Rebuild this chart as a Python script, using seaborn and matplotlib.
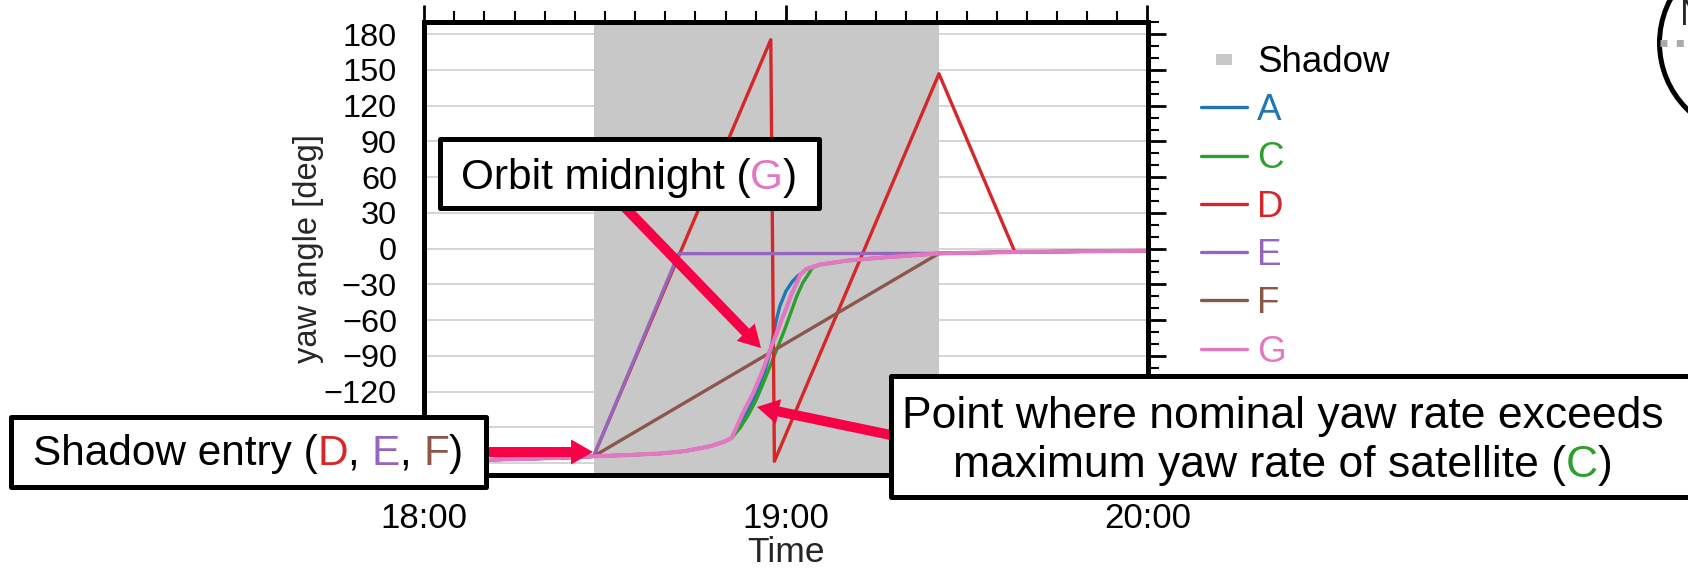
import matplotlib
matplotlib.use("Agg")
import matplotlib.pyplot as plt
import matplotlib.dates as mdates
from matplotlib.ticker import MultipleLocator, FixedFormatter
from matplotlib.patches import Rectangle, Patch, FancyArrowPatch, Ellipse
from matplotlib.lines import Line2D
from matplotlib.legend_handler import HandlerPatch
import pandas as pd
import seaborn as sns

# ---- yaw angle [deg] versus minutes after 18:00 ----
# nominal attitude (G); the other laws coincide with it outside their own segments
NOMINAL_MIN = [0.0, 12.0, 22.8, 28.1, 33.6, 39.1, 43.2, 47.4, 49.8, 51.0, 52.9,
               54.6, 56.0, 56.8, 57.6, 58.5, 59.3, 60.1, 60.9, 61.8, 62.4, 63.4,
               65.6, 70.1, 74.5, 78.9, 85.4, 98.0, 120.0]
NOMINAL_YAW = [-178.5, -177.0, -175.6, -174.3, -173.3, -172.0, -170.0, -165.9,
               -162.0, -158.9, -137.9, -121.1, -104.3, -93.1, -82.0, -70.8, -59.6,
               -49.8, -38.6, -28.8, -21.8, -17.1, -13.4, -10.1, -8.1, -6.4, -4.0,
               -2.8, -1.7]

A_MIN = [51.0, 53.2, 55.1, 56.5, 57.2, 57.8, 58.3, 59.0, 60.0, 61.1, 62.2]
A_YAW = [-158.9, -140.7, -121.1, -102.9, -90.3, -76.4, -62.4, -48.4, -35.8, -27.4, -21.8]

C_MIN = [51.0, 52.4, 53.8, 55.1, 56.5, 57.6, 58.7, 59.8, 60.8, 61.8, 62.8, 63.7, 64.4]
C_YAW = [-158.9, -150.5, -139.3, -126.7, -109.9, -95.9, -82.0, -68.0, -54.0,
         -40.0, -28.8, -21.8, -16.0]

D_MIN = [28.1, 57.5, 58.1, 85.4, 98.0]
D_YAW = [-174.3, 175.4, -178.5, 146.8, -2.8]

E_MIN = [28.1, 42.2, 85.4]
E_YAW = [-174.3, -4.2, -4.0]

F_MIN = [28.1, 85.4]
F_YAW = [-174.3, -4.0]

SERIES = ["A", "C", "D", "E", "F", "G"]
COLORS = ["#1f77b4", "#2ca02c", "#d62728", "#9467bd", "#8c564b", "#e377c2"]
SHADOW_MIN = [28.2, 85.4]
Y_TICKS = list(range(-180, 181, 30))
# the two lowest labels sit behind the "Shadow entry" call-out
Y_TICK_LABELS = ["", ""] + ["\u2212%d" % -v if v < 0 else "%d" % v for v in Y_TICKS[2:]]

SHADOW_COLOR = "#c8c8c8"
ARROW_COLOR = "#f70046"
BASE = pd.Timestamp("2000-01-01 18:00")

W_PX, H_PX, DPI = 1688, 568, 100

sns.set_theme(style="white")
plt.rcParams["font.family"] = ["Liberation Sans", "DejaVu Sans"]
plt.rcParams["axes.unicode_minus"] = True


def splice(own_t, own_y):
    """Nominal curve outside the series' own segment, own points inside."""
    t = [x for x in NOMINAL_MIN if x < own_t[0]] + own_t + [x for x in NOMINAL_MIN if x > own_t[-1]]
    y = ([v for x, v in zip(NOMINAL_MIN, NOMINAL_YAW) if x < own_t[0]] + own_y
         + [v for x, v in zip(NOMINAL_MIN, NOMINAL_YAW) if x > own_t[-1]])
    return t, y


curves = {
    "A": splice(A_MIN, A_YAW),
    "C": splice(C_MIN, C_YAW),
    "D": splice(D_MIN, D_YAW),
    "E": splice(E_MIN, E_YAW),
    "F": splice(F_MIN, F_YAW),
    "G": (NOMINAL_MIN, NOMINAL_YAW),
}
frames = []
for name in SERIES:
    mins, yaw = curves[name]
    frames.append(pd.DataFrame({
        "time": BASE + pd.to_timedelta(mins, unit="min"),
        "yaw": yaw,
        "series": name,
    }))
df = pd.concat(frames, ignore_index=True)

fig = plt.figure(figsize=(W_PX / DPI, H_PX / DPI), dpi=DPI)
fig.patch.set_facecolor("white")


def fx(x):
    return x / W_PX


def fy(y):
    return 1 - y / H_PX


ax = fig.add_axes([fx(424.2), fy(475), (1147.5 - 424.2) / W_PX, (475 - 22.3) / H_PX])
ax.set_facecolor("white")

ax.axvspan(BASE + pd.Timedelta(minutes=SHADOW_MIN[0]),
           BASE + pd.Timedelta(minutes=SHADOW_MIN[1]),
           color=SHADOW_COLOR, lw=0, zorder=1)

sns.lineplot(data=df, x="time", y="yaw", hue="series", hue_order=SERIES,
             palette=dict(zip(SERIES, COLORS)), estimator=None, sort=False,
             linewidth=2.4, legend=False, ax=ax, zorder=2)
ax.lines[-1].set_linewidth(3.0)

ax.set_xlim(BASE, BASE + pd.Timedelta(hours=2))
ax.set_ylim(-190, 190)
ax.set_yticks(Y_TICKS)
ax.yaxis.set_major_formatter(FixedFormatter(Y_TICK_LABELS))
ax.yaxis.set_minor_locator(MultipleLocator(10))
ax.xaxis.set_major_locator(mdates.HourLocator())
ax.xaxis.set_minor_locator(mdates.MinuteLocator(byminute=range(0, 60, 5)))
ax.xaxis.set_major_formatter(mdates.DateFormatter("%H:%M"))

ax.set_axisbelow(True)
ax.yaxis.grid(True, color="#d4d4d4", lw=1.4)
ax.xaxis.grid(False)

for side in ["left", "right", "top", "bottom"]:
    ax.spines[side].set_visible(True)
    ax.spines[side].set_color("black")
    ax.spines[side].set_linewidth(3.6)

ax.tick_params(which="major", direction="out", length=12.6, width=2.0,
               colors="black", top=True, right=True)
ax.tick_params(which="minor", direction="out", length=7.9, width=1.5,
               colors="black", top=True, right=True)
ax.tick_params(axis="y", which="major", pad=7, labelsize=23.4)
ax.tick_params(axis="x", which="major", pad=6.5, labelsize=25)

ax.set_xlabel("Time", fontsize=25.5, labelpad=1.0)
ax.set_ylabel("yaw angle [deg]", fontsize=23.5, labelpad=0)


# ---- legend ----
class SmallSquare(HandlerPatch):
    def create_artists(self, legend, orig_handle, xdescent, ydescent, width,
                       height, fontsize, trans):
        w, h = 11.5, 7.9
        cx = -xdescent + width / 2
        cy = -ydescent + height / 2
        rect = Rectangle((cx - w / 2, cy - h / 2), w, h,
                         facecolor=orig_handle.get_facecolor(), lw=0, transform=trans)
        return [rect]


handles = [Patch(facecolor=SHADOW_COLOR)] + [Line2D([], [], color=c, lw=2.4) for c in COLORS]
labels = ["Shadow"] + SERIES
leg = fig.legend(handles, labels, loc="upper left",
                 bbox_to_anchor=(fx(1201), fy(45)), bbox_transform=fig.transFigure,
                 frameon=False, fontsize=26.5, handlelength=1.25, handleheight=0.7,
                 handletextpad=0.27, labelspacing=0.36, borderpad=0,
                 borderaxespad=0, handler_map={Patch: SmallSquare()})
for txt, c in zip(leg.get_texts(), ["black"] + COLORS):
    txt.set_color(c)

# ---- call-out arrows ----
def arrow(x1, y1, x2, y2):
    fig.add_artist(FancyArrowPatch(
        posA=(fx(x1), fy(y1)), posB=(fx(x2), fy(y2)), transform=fig.transFigure,
        arrowstyle="simple,head_length=15.8,head_width=18,tail_width=7.2",
        mutation_scale=1, color=ARROW_COLOR, lw=0, shrinkA=0, shrinkB=0, zorder=4))


arrow(470, 452, 593, 452)
arrow(612, 194, 761, 348)
arrow(905, 438, 757, 407)

# ---- call-out boxes ----
def box(x0, y0, x1, y1):
    fig.add_artist(Rectangle((fx(x0), fy(y1)), fx(x1) - fx(x0), fy(y0) - fy(y1),
                             transform=fig.transFigure, facecolor="white",
                             edgecolor="black", lw=3.6, joinstyle="round", zorder=5))


box(439.5, 139, 819, 208)
box(11, 416.5, 486, 486.5)
box(891, 375.5, 1720, 496.5)

renderer = fig.canvas.get_renderer()
NOTE_SIZE = 30.5


def text_width(s, size):
    t = fig.text(0, 0, s, fontsize=size)
    w = t.get_window_extent(renderer).width
    t.remove()
    return w


def rich_line(parts, cx, baseline, size=NOTE_SIZE):
    full = "".join(p for p, _ in parts)
    x0 = cx - text_width(full, size) / 2
    prefix = ""
    for piece, color in parts:
        offset = text_width(prefix + piece, size) - text_width(piece, size)
        fig.text(fx(x0 + offset), fy(baseline), piece, color=color, fontsize=size,
                 ha="left", va="baseline", zorder=6)
        prefix += piece


rich_line([("Orbit midnight (", "black"), ("G", COLORS[5]), (")", "black")], 629, 189)
rich_line([("Shadow entry (", "black"), ("D", COLORS[2]), (", ", "black"),
           ("E", COLORS[3]), (", ", "black"), ("F", COLORS[4]), (")", "black")], 248, 465)
rich_line([("Point where nominal yaw rate exceeds", "black")], 1283, 428, size=32)
rich_line([("maximum yaw rate of satellite (", "black"), ("C", COLORS[1]),
           (")", "black")], 1283, 477, size=32)

# ---- orbit sketch at the edge of the figure ----
fig.add_artist(Ellipse((fx(1752.5), fy(43)), 2 * 93 / W_PX, 2 * 93 / H_PX,
                       transform=fig.transFigure, facecolor="none",
                       edgecolor="black", lw=3.6, zorder=3))
fig.add_artist(Line2D([fx(1660), fx(1760)], [fy(43), fy(43)], transform=fig.transFigure,
                      color="#aaaaaa", lw=5.0, dashes=(1, 1.35), dash_capstyle="butt",
                      zorder=3))
fig.text(fx(1680), fy(25), "N", fontsize=26, ha="left", va="baseline", zorder=3)

fig.savefig("out.png", dpi=DPI, facecolor="white")
